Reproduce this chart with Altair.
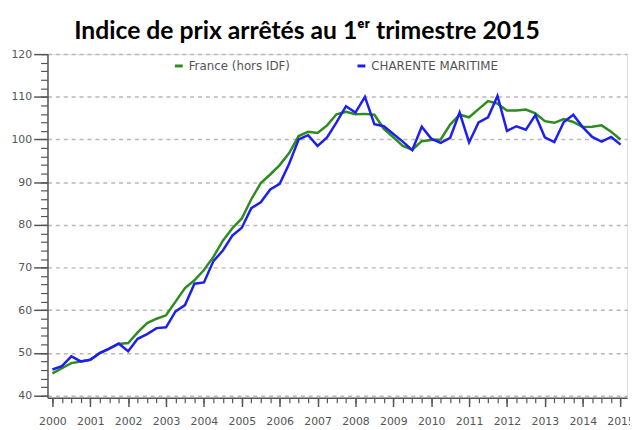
import altair as alt
import pandas as pd

# Quarterly time axis (2000 T1 .. 2015 T1)
YEARS = list(range(2000, 2016))
QUARTERS = [y + q / 4 for y in range(2000, 2015) for q in range(4)] + [2015.0]

FRANCE = [45.2, 46.4, 47.6, 48.0, 48.4, 49.9, 51.0, 52.1, 52.3, 54.8, 57.0, 58.0,
          58.8, 62.0, 65.2, 67.0, 69.4, 72.5, 76.3, 79.2, 81.5, 86.0, 89.8, 91.8,
          94.0, 96.8, 100.8, 101.8, 101.5, 103.3, 105.9, 106.5, 105.9, 106.0, 105.8, 102.5,
          100.5, 98.5, 97.6, 99.6, 99.9, 100.0, 103.5, 105.8, 105.2, 107.1, 109.0, 108.4,
          106.8, 106.8, 107.0, 106.1, 104.3, 103.9, 104.8, 104.1, 102.9, 103.0, 103.3, 101.8,
          100.0]
CHARENTE = [46.1, 46.9, 49.2, 48.0, 48.4, 50.0, 51.0, 52.2, 50.4, 53.3, 54.4, 55.8,
            56.0, 59.7, 61.2, 66.2, 66.5, 71.5, 74.0, 77.5, 79.3, 83.9, 85.3, 88.3,
            89.6, 94.3, 100.0, 101.0, 98.5, 100.5, 104.0, 107.8, 106.3, 110.0, 103.6, 103.1,
            101.3, 99.5, 97.5, 103.0, 100.2, 99.2, 100.4, 106.3, 99.3, 104.0, 105.2, 110.2,
            102.0, 103.1, 102.3, 105.7, 100.5, 99.4, 104.1, 105.8, 102.9, 100.6, 99.5, 100.6,
            98.8]
SERIES = ["France (hors IDF)", "CHARENTE MARITIME"]
COLORS = ["#2E8B1E", "#1E1EF0"]
Y_MAJOR = list(range(40, 121, 10))
Y_MINOR = list(range(40, 121, 2))

df = pd.DataFrame({
    "t": QUARTERS + QUARTERS,
    "v": FRANCE + CHARENTE,
    "s": [SERIES[0]] * len(FRANCE) + [SERIES[1]] * len(CHARENTE),
})

AX = "#555555"
FONT = "DejaVu Sans"
xs = alt.Scale(domain=[1999.87, 2015.17], nice=False, zero=False)
ys = alt.Scale(domain=[39.5, 120], nice=False, zero=False)

major = alt.Chart(df).mark_line(strokeWidth=2.5).encode(
    x=alt.X("t:Q", scale=xs, axis=alt.Axis(
        values=YEARS, format="d", title=None, orient="bottom", tickSize=9,
        labelPadding=9, grid=False, domainColor=AX, tickColor=AX, labelColor=AX,
        domainWidth=1.5, tickWidth=1.5, labelFont=FONT, labelFontSize=11,
        labelFlush=False, labelOverlap=False)),
    y=alt.Y("v:Q", scale=ys, axis=alt.Axis(
        values=Y_MAJOR, title=None, orient="left", tickSize=14, labelPadding=2,
        grid=True, gridDash=[4, 4], gridColor="#b8b8b8", gridWidth=1.5,
        domainColor=AX, tickColor=AX, labelColor=AX, domainWidth=1.5, tickWidth=1.5,
        labelFont=FONT, labelFontSize=11, labelFlush=False)),
    color=alt.Color("s:N", scale=alt.Scale(domain=SERIES, range=COLORS), legend=alt.Legend(
        title=None, orient="none", legendX=127, legendY=6, direction="horizontal",
        symbolType="stroke", symbolStrokeWidth=3, symbolSize=64, columnPadding=62,
        labelFont=FONT, labelFontSize=12, labelColor=AX, labelOffset=4, padding=0)),
    order=alt.Order("t:Q"),
)

minor = alt.Chart(df).mark_line(opacity=0).encode(
    x=alt.X("t:Q", scale=xs, axis=alt.Axis(
        values=QUARTERS, labels=False, title=None, orient="bottom", tickSize=5,
        domain=False, grid=False, tickColor=AX, tickWidth=1.2)),
    y=alt.Y("v:Q", scale=ys, axis=alt.Axis(
        values=Y_MINOR, labels=False, title=None, orient="left", tickSize=7,
        domain=False, grid=False, tickColor=AX, tickWidth=1.2)),
    detail="s:N",
)

chart = alt.layer(minor, major).resolve_axis(x="independent", y="independent").properties(
    width=587, height=348,
    autosize=alt.AutoSizeParams(type="none"),
    padding={"left": 40, "top": 44, "right": 3, "bottom": 30},
    title=alt.Title("Indice de prix arrêtés au 1ᵉʳ trimestre 2015", font="Lato",
                    fontSize=25, fontWeight="bold", color="#000000", anchor="start",
                    frame="group", dx=27, offset=4),
).configure_view(stroke=None).configure(background="white")

chart.save("out.html", embed_options={"renderer": "svg", "actions": False})
